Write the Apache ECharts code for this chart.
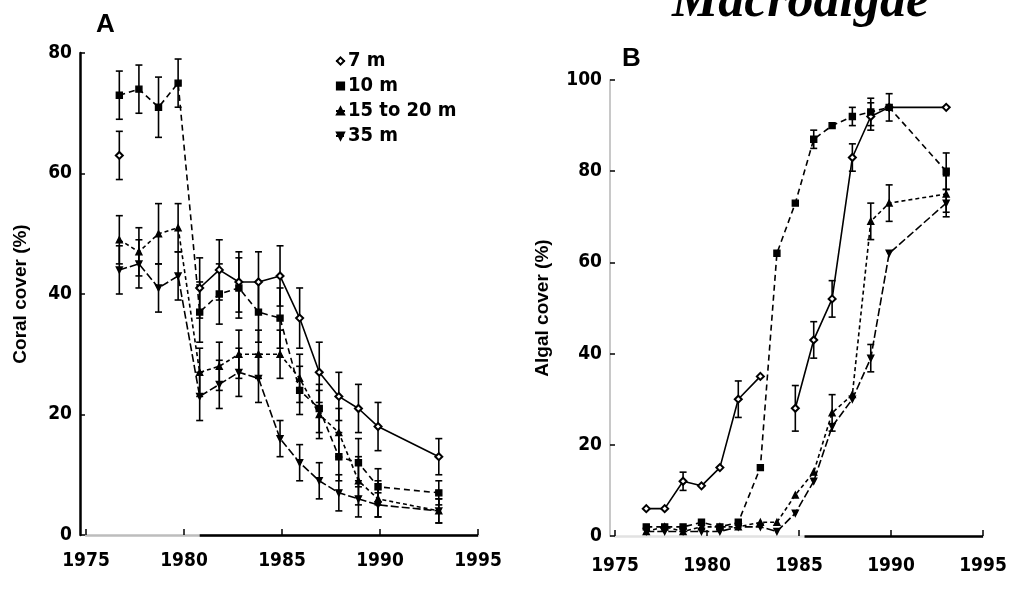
<!DOCTYPE html>
<html><head><meta charset="utf-8">
<script src="https://cdn.jsdelivr.net/npm/echarts@6/dist/echarts.min.js"></script>
<style>html,body{margin:0;padding:0;background:#fff}#c{width:1011px;height:592px}</style>
</head><body><div id="c"></div>
<script>
// ---------- data ----------
const xTicks = [1975, 1980, 1985, 1990, 1995];
const coralTicks = [0, 20, 40, 60, 80];
const algalTicks = [0, 20, 40, 60, 80, 100];
const depthNames = ['7 m', '10 m', '15 to 20 m', '35 m'];

const yearsA = [1976.7, 1977.7, 1978.7, 1979.7, 1980.8, 1981.8, 1982.8, 1983.8, 1984.9, 1985.9, 1986.9, 1987.9, 1988.9, 1989.9, 1993];
const coral7m  = [63, null, null, null, 41, 44, 42, 42, 43, 36, 27, 23, 21, 18, 13];
const coral10m = [73, 74, 71, 75, 37, 40, 41, 37, 36, 24, 21, 13, 12, 8, 7];
const coral15m = [49, 47, 50, 51, 27, 28, 30, 30, 30, 26, 20, 17, 9, 6, 4];
const coral35m = [44, 45, 41, 43, 23, 25, 27, 26, 16, 12, 9, 7, 6, 5, 4];
const coralErr7m  = [4, 0, 0, 0, 5, 5, 5, 5, 5, 5, 5, 4, 4, 4, 3];
const coralErr10m = [4, 4, 5, 4, 5, 5, 5, 5, 5, 4, 4, 4, 4, 3, 2];
const coralErr15m = [4, 4, 5, 4, 4, 4, 4, 4, 4, 4, 4, 4, 4, 3, 2];
const coralErr35m = [4, 4, 4, 4, 4, 4, 4, 4, 3, 3, 3, 3, 3, 2, 2];

const yearsB = [1976.7, 1977.7, 1978.7, 1979.7, 1980.7, 1981.7, 1982.9, 1983.8, 1984.8, 1985.8, 1986.8, 1987.9, 1988.9, 1989.9, 1993];
const algae7m  = [6, 6, 12, 11, 15, 30, 35, null, 28, 43, 52, 83, 92, 94, 94];
const algae10m = [2, 2, 2, 3, 2, 3, 15, 62, 73, 87, 90, 92, 93, 94, 80];
const algae15m = [1, 2, 1, 2, 2, 2, 3, 3, 9, 14, 27, 31, 69, 73, 75];
const algae35m = [1, 1, 1, 1, 1, 2, 2, 1, 5, 12, 24, 30, 39, 62, 73];
const algaeErr7m  = [0, 0, 2, 0, 0, 4, 0, 0, 5, 4, 4, 3, 3, 0, 0];
const algaeErr10m = [0, 0, 0, 0, 0, 0, 0, 0, 0, 2, 0, 2, 3, 3, 4];
const algaeErr15m = [0, 0, 0, 0, 0, 0, 0, 0, 0, 0, 4, 0, 4, 4, 4];
const algaeErr35m = [0, 0, 0, 0, 0, 0, 0, 0, 0, 0, 0, 0, 3, 0, 3];

const eventYearA = 1983.3;
const eventYearB = 1982.9;

// ---------- chart ----------
const FONT = "'Liberation Sans Narrow','DejaVu Sans Condensed','Liberation Sans',sans-serif";
const invTri = 'path://M0,0 L10,0 L5,9 Z';
const symbols = ['emptyDiamond', 'rect', 'triangle', invTri];
const dashes = ['solid', [6, 4], [4, 3], [8, 3]];

function pairs(xs, ys) { return xs.map((x, i) => [x, ys[i]]); }
function errData(xs, ys, es) {
  const out = [];
  xs.forEach((x, i) => { if (ys[i] != null && es[i] > 0) out.push([x, ys[i] - es[i], ys[i] + es[i]]); });
  return out;
}
function errSeries(idx, data) {
  return {
    type: 'custom', xAxisIndex: idx, yAxisIndex: idx, silent: true, z: 3,
    renderItem: function (params, api) {
      const lo = api.coord([api.value(0), api.value(1)]);
      const hi = api.coord([api.value(0), api.value(2)]);
      const w = 3.5;
      const st = { stroke: '#000', lineWidth: 1.6 };
      return { type: 'group', children: [
        { type: 'line', shape: { x1: lo[0], y1: lo[1], x2: hi[0], y2: hi[1] }, style: st },
        { type: 'line', shape: { x1: lo[0] - w, y1: lo[1], x2: lo[0] + w, y2: lo[1] }, style: st },
        { type: 'line', shape: { x1: hi[0] - w, y1: hi[1], x2: hi[0] + w, y2: hi[1] }, style: st }
      ] };
    },
    data: data
  };
}
function lineSeries(idx, k, xs, ys, nm) {
  return {
    name: nm || depthNames[k], type: 'line', xAxisIndex: idx, yAxisIndex: idx,
    data: pairs(xs, ys), connectNulls: false,
    symbol: symbols[k], symbolSize: k === 0 ? 7 : 6,
    lineStyle: { color: '#000', width: 1.6, type: dashes[k] },
    itemStyle: { color: '#000', borderColor: '#000', borderWidth: 1.4 },
    z: 4
  };
}
function segment(idx, p1, p2, color, width) {
  return { type: 'line', xAxisIndex: idx, yAxisIndex: idx, data: [], clip: false, silent: true,
    markLine: { symbol: 'none', silent: true, label: { show: false },
      lineStyle: { color: color, width: width, type: 'solid' },
      data: [[{ coord: p1 }, { coord: p2 }]] } };
}

const chart = echarts.init(document.getElementById('c'), null, { renderer: 'canvas' });
const axisLbl = { color: '#000', fontFamily: FONT, fontSize: 19, fontWeight: 'bold' };
const nameStyle = { color: '#000', fontFamily: "'Liberation Sans',sans-serif", fontWeight: 'bold', fontSize: 19 };
const option = {
  animation: false,
  backgroundColor: '#fff',
  grid: [
    { left: 86, top: 53, width: 392, height: 482 },
    { left: 615, top: 80, width: 368, height: 456 }
  ],
  xAxis: [0, 1].map(i => ({
    gridIndex: i, type: 'value', min: xTicks[0], max: xTicks[xTicks.length - 1], interval: 5,
    axisLine: { show: true, lineStyle: { color: i === 0 ? '#bdbdbd' : '#e2e2e2', width: 2.5 } },
    axisTick: { show: true, inside: true, length: 6, lineStyle: { color: '#000', width: 1.5 } },
    axisLabel: Object.assign({ margin: i === 0 ? 17 : 21, formatter: v => xTicks.includes(v) ? String(v) : '' }, axisLbl),
    splitLine: { show: false }
  })),
  yAxis: [
    { gridIndex: 0, type: 'value', min: coralTicks[0], max: coralTicks[coralTicks.length - 1], interval: 20, offset: 6,
      name: 'Coral cover (%)', nameLocation: 'middle', nameGap: 50, nameRotate: 90, nameTextStyle: nameStyle,
      axisLine: { show: true, lineStyle: { color: '#000', width: 2.5 } },
      axisTick: { show: true, inside: true, length: 5, lineStyle: { color: '#000', width: 1.5 } },
      axisLabel: Object.assign({ margin: 8 }, axisLbl), splitLine: { show: false } },
    { gridIndex: 1, type: 'value', min: algalTicks[0], max: algalTicks[algalTicks.length - 1], interval: 20, offset: 5,
      name: 'Algal cover (%)', nameLocation: 'middle', nameGap: 58, nameRotate: 90, nameTextStyle: nameStyle,
      axisLine: { show: true, lineStyle: { color: '#c8c8c8', width: 2 } },
      axisTick: { show: true, inside: true, length: 5, lineStyle: { color: '#000', width: 1.5 } },
      axisLabel: Object.assign({ margin: 8 }, axisLbl), splitLine: { show: false } }
  ],
  legend: {
    data: depthNames, orient: 'vertical', left: 330, top: 46, itemGap: 5,
    itemWidth: 9, itemHeight: 9,
    textStyle: { color: '#000', fontFamily: FONT, fontSize: 20, fontWeight: 'bold', padding: [0, 0, 0, -2] },
    selectedMode: false
  },
  graphic: [
    { type: 'text', left: 96, top: 12, style: { text: 'A', font: "bold 26px 'Liberation Sans', sans-serif", fill: '#000' } },
    { type: 'text', left: 622, top: 46, style: { text: 'B', font: "bold 26px 'Liberation Sans', sans-serif", fill: '#000' } },
    { type: 'text', left: 672, top: -23, style: { text: 'Macroalgae', font: "italic bold 52px 'Liberation Serif', serif", fill: '#000',
      shadowColor: 'rgba(0,0,0,0.45)', shadowOffsetX: 3, shadowOffsetY: 3, shadowBlur: 2 } }
  ],
  series: [
    segment(0, [eventYearA, 80.6], [eventYearA, -0.5], '#222', 1),
    segment(1, [eventYearB, 106.5], [eventYearB, -0.5], '#555', 1.2),
    segment(0, [1980.8, 0], [1995, 0], '#000', 2.5),
    segment(1, [1985.3, 0], [1995, 0], '#000', 2.5),
    segment(1, [1974.73, 70], [1974.73, 100], '#000', 2.5),
    lineSeries(0, 0, yearsA, coral7m),
    lineSeries(0, 1, yearsA, coral10m),
    lineSeries(0, 2, yearsA, coral15m),
    lineSeries(0, 3, yearsA, coral35m),
    errSeries(0, errData(yearsA, coral7m, coralErr7m)),
    errSeries(0, errData(yearsA, coral10m, coralErr10m)),
    errSeries(0, errData(yearsA, coral15m, coralErr15m)),
    errSeries(0, errData(yearsA, coral35m, coralErr35m)),
    lineSeries(1, 0, yearsB, algae7m, 'b7'),
    lineSeries(1, 1, yearsB, algae10m, 'b10'),
    lineSeries(1, 2, yearsB, algae15m, 'b15'),
    lineSeries(1, 3, yearsB, algae35m, 'b35'),
    errSeries(1, errData(yearsB, algae7m, algaeErr7m)),
    errSeries(1, errData(yearsB, algae10m, algaeErr10m)),
    errSeries(1, errData(yearsB, algae15m, algaeErr15m)),
    errSeries(1, errData(yearsB, algae35m, algaeErr35m))
  ]
};
chart.setOption(option);
</script></body></html>
